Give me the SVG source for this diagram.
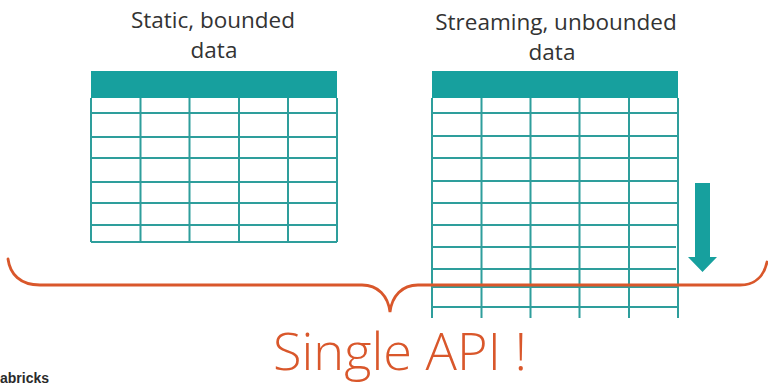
<svg xmlns="http://www.w3.org/2000/svg" width="768" height="390" viewBox="0 0 768 390">
  <style>
    .title { font-family: "Open Sans", "Noto Sans", sans-serif; fill: #333333; text-anchor: middle; font-size: 22.5px; }
    .hdr { fill: #17a09e; }
    .grid { stroke: #2e9e9c; stroke-width: 2; fill: none; }
    .brace { stroke: #d9572b; stroke-width: 2.8; fill: none; stroke-linecap: round; }
    .api { font-family: "Open Sans", "Noto Sans", sans-serif; font-weight: 300; fill: #d9572b; }
    .logo { font-family: "Liberation Sans", "DejaVu Sans", sans-serif; font-weight: bold; fill: #2a2a2a; }
  </style>
  <rect width="768" height="390" fill="#ffffff"/>

  <!-- Static, bounded data table -->
  <g id="static-table">
    <text class="title" x="213" y="28">Static, bounded</text>
    <text class="title" x="214" y="58">data</text>
    <rect class="hdr" x="91" y="71" width="246" height="27"/>
    <path class="grid" d="M91 98 V242 M140.5 98 V242 M189.5 98 V242 M239 98 V242 M288 98 V242 M337 98 V242
      M91 113 H337 M91 137 H337 M91 158 H337 M91 182 H337 M91 203 H337 M91 225 H337 M91 242 H337"/>
  </g>

  <!-- Streaming, unbounded data table (open at the bottom) -->
  <g id="streaming-table">
    <text class="title" x="556" y="30">Streaming, unbounded</text>
    <text class="title" x="552" y="60">data</text>
    <rect class="hdr" x="432" y="71" width="246" height="27"/>
    <path class="grid" d="M432 98 V318 M481.5 98 V318 M530.5 98 V318 M579.5 98 V318 M629 98 V318 M678 98 V318
      M432 113 H678 M432 136 H678 M432 158 H678 M432 181 H678 M432 203 H678 M432 225 H678
      M432 247 H676 M432 269 H676 M432 287 H678 M432 307 H678"/>
  </g>

  <!-- Downward arrow: rows keep arriving -->
  <g id="stream-arrow">
    <polygon fill="#17a09e" points="695,183 710,183 710,257 717,257 702.5,272 688,257 695,257"/>
  </g>

  <!-- Curly brace grouping both kinds of data -->
  <g id="connectors">
    <path class="brace" d="M8 259 C10 274 20 285 40 285 L362 285 C378 285 388 296 390 312 C392 296 402 285 418 285 L740 285 C755 285 764 276 767 262"/>
  </g>

  <g id="single-api">
    <text class="api" x="273" y="370" font-size="52" textLength="254" lengthAdjust="spacingAndGlyphs">Single API !</text>
  </g>

  <g id="logo">
    <text class="logo" x="0" y="383" font-size="14">abricks</text>
  </g>
</svg>
